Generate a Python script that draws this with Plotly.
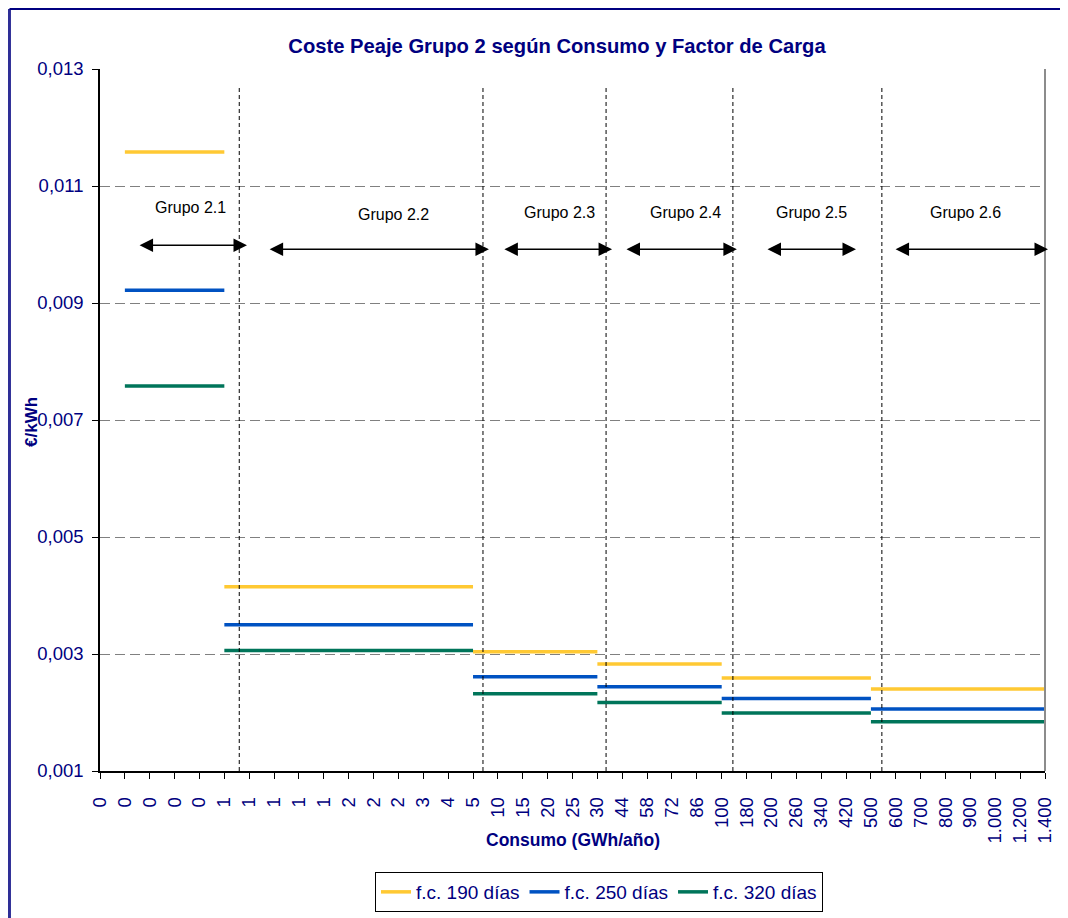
import plotly.graph_objects as go

# ---------------- data ----------------
tick_labels = ["0", "0", "0", "0", "0", "1", "1", "1", "1", "1", "2", "2", "2",
               "3", "4", "5", "10", "15", "20", "25", "30", "44", "58", "72", "86",
               "100", "180", "200", "260", "340", "420", "500", "600", "700", "800",
               "900", "1.000", "1.200", "1.400"]

groups = ["Grupo 2.1", "Grupo 2.2", "Grupo 2.3", "Grupo 2.4", "Grupo 2.5", "Grupo 2.6"]
group_start = [1, 5, 15, 20, 25, 31]   # category index where each group's segment starts
group_end = [5, 15, 20, 25, 31, 38]    # category index where each group's segment ends

series_names = ["f.c. 190 días", "f.c. 250 días", "f.c. 320 días"]
fc190 = [0.01158, 0.00415, 0.00304, 0.00283, 0.00259, 0.00240]
fc250 = [0.00922, 0.00350, 0.00261, 0.00244, 0.00224, 0.00206]
fc320 = [0.00758, 0.00306, 0.00232, 0.00217, 0.00199, 0.00184]

# ---------------- styling ----------------
NAVY = "#000080"
FONT = "Arial, Liberation Sans, sans-serif"
colors = ["#FFC933", "#0052C2", "#00755A"]

fig = go.Figure()

for name, vals, col in zip(series_names, [fc190, fc250, fc320], colors):
    xs, ys = [], []
    for s, e, v in zip(group_start, group_end, vals):
        xs += [s, e, None]
        ys += [v, v, None]
    fig.add_trace(go.Scatter(x=xs, y=ys, mode="lines", name=name,
                             line=dict(color=col, width=3.5),
                             connectgaps=False))

shapes = []
# vertical dotted dividers between groups
divider_x = [5.6, 15.4, 20.35, 25.45, 31.44]
for dx in divider_x:
    shapes.append(dict(type="line", xref="x", yref="y", x0=dx, x1=dx,
                       y0=0.001, y1=0.01272,
                       line=dict(color="black", width=1, dash="4px,3px")))
# right border of plot area
shapes.append(dict(type="line", xref="paper", yref="paper", x0=1, x1=1, y0=0, y1=1,
                   line=dict(color="#8C8C8C", width=2)))
# outer chart border (left and top, cropped)
shapes.append(dict(type="line", xref="paper", yref="paper",
                   x0=-0.0958, x1=-0.0958, y0=-0.3, y1=1.0855,
                   line=dict(color="#2E2E96", width=3)))
shapes.append(dict(type="line", xref="paper", yref="paper",
                   x0=-0.0958, x1=1.0190, y0=1.0855, y1=1.0855,
                   line=dict(color=NAVY, width=2)))

annotations = []
# double arrows for groups
arrow_from = [1.53, 6.76, 16.20, 21.11, 26.78, 31.93]
arrow_to = [5.91, 15.64, 20.59, 25.61, 30.40, 38.12]
arrow_y = [0.009987, 0.009919, 0.009919, 0.009919, 0.009919, 0.009919]
for a0, a1, ay in zip(arrow_from, arrow_to, arrow_y):
    annotations.append(dict(x=a1, y=ay, ax=a0, ay=ay, xref="x", yref="y",
                            axref="x", ayref="y", text="", showarrow=True,
                            arrowhead=2, startarrowhead=2, arrowside="end+start",
                            arrowsize=1.8, startarrowsize=1.8,
                            arrowwidth=1.5, arrowcolor="black"))
label_x = [3.62, 11.82, 18.46, 23.56, 28.63, 34.82]
label_y = [0.010636, 0.010517, 0.01055, 0.01055, 0.01055, 0.01055]
for g, lx, ly in zip(groups, label_x, label_y):
    annotations.append(dict(x=lx, y=ly, xref="x", yref="y", text=g, showarrow=False,
                            font=dict(family=FONT, size=16, color="black")))
# y axis title
annotations.append(dict(x=(31 - 100) / 945, y=(771 - 422) / 702, xref="paper", yref="paper",
                        xanchor="center", yanchor="middle", text="<b>€/kWh</b>",
                        textangle=-90, showarrow=False,
                        font=dict(family=FONT, size=17, color=NAVY)))
# x axis title
annotations.append(dict(x=(573 - 100) / 945, y=(771 - 840) / 702, xref="paper", yref="paper",
                        xanchor="center", yanchor="middle", text="<b>Consumo (GWh/año)</b>",
                        showarrow=False,
                        font=dict(family=FONT, size=17.5, color=NAVY)))

fig.update_layout(
    width=1068, height=918,
    margin=dict(l=92, r=31, t=61, b=155),
    paper_bgcolor="white", plot_bgcolor="white",
    separators=",.",
    font=dict(family=FONT, color=NAVY),
    title=dict(text="<b>Coste Peaje Grupo 2 según Consumo y Factor de Carga</b>",
               x=(557 - 8) / 1068, xanchor="center", y=1 - (46 - 8) / 918, yanchor="middle",
               font=dict(family=FONT, size=20.2, color=NAVY)),
    xaxis=dict(range=[0, 38], tickmode="array", tickvals=list(range(len(tick_labels))),
               ticktext=tick_labels, tickangle=-90, showgrid=False, zeroline=False,
               showline=True, linecolor="black", linewidth=1.5,
               ticks="outside", ticklen=6, tickcolor="black", ticklabelstandoff=11,
               tickfont=dict(family=FONT, size=18.5, color=NAVY)),
    yaxis=dict(range=[0.001, 0.013], tick0=0.001, dtick=0.002, tickformat=".3f",
               showgrid=True, gridcolor="#808080", griddash="10px,5px", gridwidth=1,
               zeroline=False, showline=True, linecolor="black", linewidth=1.5,
               ticks="outside", ticklen=6, tickcolor="black", ticklabelstandoff=5,
               tickfont=dict(family=FONT, size=18.5, color=NAVY)),
    showlegend=True,
    legend=dict(orientation="h", x=(599 - 100) / 945, xanchor="center",
                y=(771 - 892) / 702, yanchor="middle",
                bordercolor="black", borderwidth=1, bgcolor="white",
                font=dict(family=FONT, size=19, color=NAVY),
                itemwidth=30, tracegroupgap=0),
    shapes=shapes,
    annotations=annotations,
)

fig.write_html("out.html")
